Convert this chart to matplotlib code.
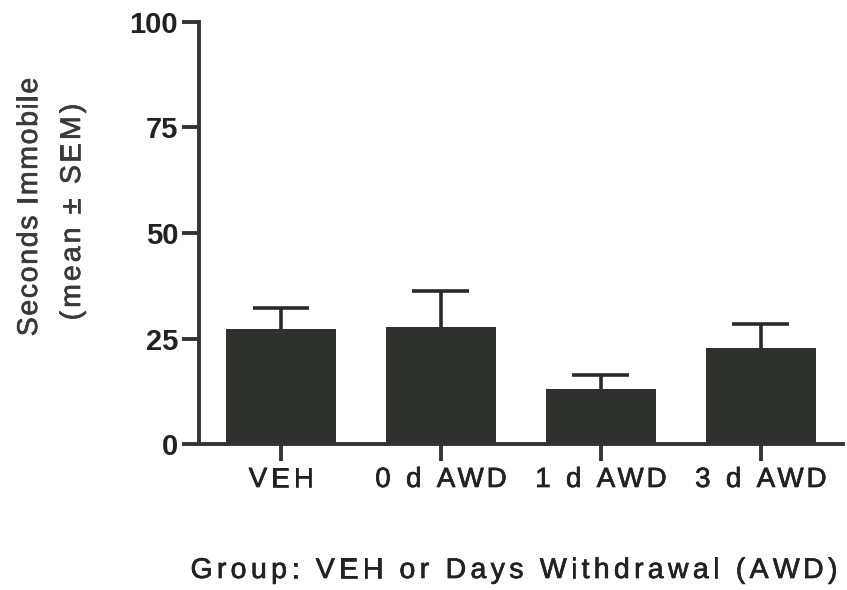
import matplotlib.pyplot as plt
import matplotlib.patheffects as pe
from matplotlib.font_manager import FontProperties

groups = ['VEH', '0 d AWD', '1 d AWD', '3 d AWD']
means = [27.4, 27.8, 13.2, 22.9]
sems = [4.9, 8.5, 3.1, 5.6]
yticks = [0, 25, 50, 75, 100]

plt.rcParams['font.family'] = 'Liberation Sans'

W, H = 847, 590
fig = plt.figure(figsize=(W / 100, H / 100), dpi=100)
ax = fig.add_axes([0.235, 0.247, 0.76, 0.716])
renderer = fig.canvas.get_renderer()


def adv(s, prop):
    # width of s including trailing spaces, in pixels
    w1 = renderer.get_text_width_height_descent(s + 'H', prop, ismath=False)[0]
    w0 = renderer.get_text_width_height_descent('H', prop, ismath=False)[0]
    return w1 - w0


def tracked_text(xc, yc, s, size, track, color, vertical=False):
    # draws s letter by letter with extra spacing (like the Prism export), centred on (xc, yc) px
    prop = FontProperties(family='Liberation Sans', size=size)
    total = adv(s, prop) + track * (len(s) - 1)
    thick = [pe.withStroke(linewidth=0.5, foreground=color)]
    for i, ch in enumerate(s):
        off = adv(s[:i], prop) + track * i - total / 2
        if vertical:
            px, py, rot = xc, yc + off, 90
        else:
            px, py, rot = xc + off, yc, 0
        fig.text(px / W, py / H, ch, fontproperties=prop, color=color, rotation=rot,
                 rotation_mode='anchor', ha='left', va='baseline', path_effects=thick)


x = list(range(len(groups)))
tops = [m + s for m, s in zip(means, sems)]
ax.bar(x, means, width=0.69, color='#2f312f', zorder=2)
ax.vlines(x, means, tops, color='#2a2a2a', linewidth=2.6, zorder=1)
ax.hlines(tops, [i - 0.178 for i in x], [i + 0.178 for i in x], color='#2a2a2a',
          linewidth=2.6, zorder=1)

ax.set_xlim(-0.5125, 3.5125)
ax.set_ylim(0, 100)
ax.set_yticks(yticks)
ax.set_xticks(x)
ax.set_xticklabels([])
ax.set_yticklabels([str(v) for v in yticks], fontsize=21, color='#222222', fontweight='bold')

for side in ['top', 'right']:
    ax.spines[side].set_visible(False)
for side in ['left', 'bottom']:
    ax.spines[side].set_linewidth(2.8)
    ax.spines[side].set_color('#333333')
ax.tick_params(axis='both', width=2.8, length=12, color='#333333')
ax.tick_params(axis='y', pad=3)

# x tick labels, placed under each tick through the data transform
for xi, g in zip(x, groups):
    px = ax.transData.transform((xi, 0))[0]
    tracked_text(px, H - 487, g, 20, 3.8, '#222222')

tracked_text(37, H - 207, 'Seconds Immobile', 20.5, 1.6, '#3a3a3a', vertical=True)
tracked_text(80, H - 212, '(mean \u00b1 SEM)', 20.5, 3.0, '#3a3a3a', vertical=True)
tracked_text(514, H - 578, 'Group: VEH or Days Withdrawal (AWD)', 20.5, 4.3, '#222222')

fig.savefig('out.png', dpi=100)
